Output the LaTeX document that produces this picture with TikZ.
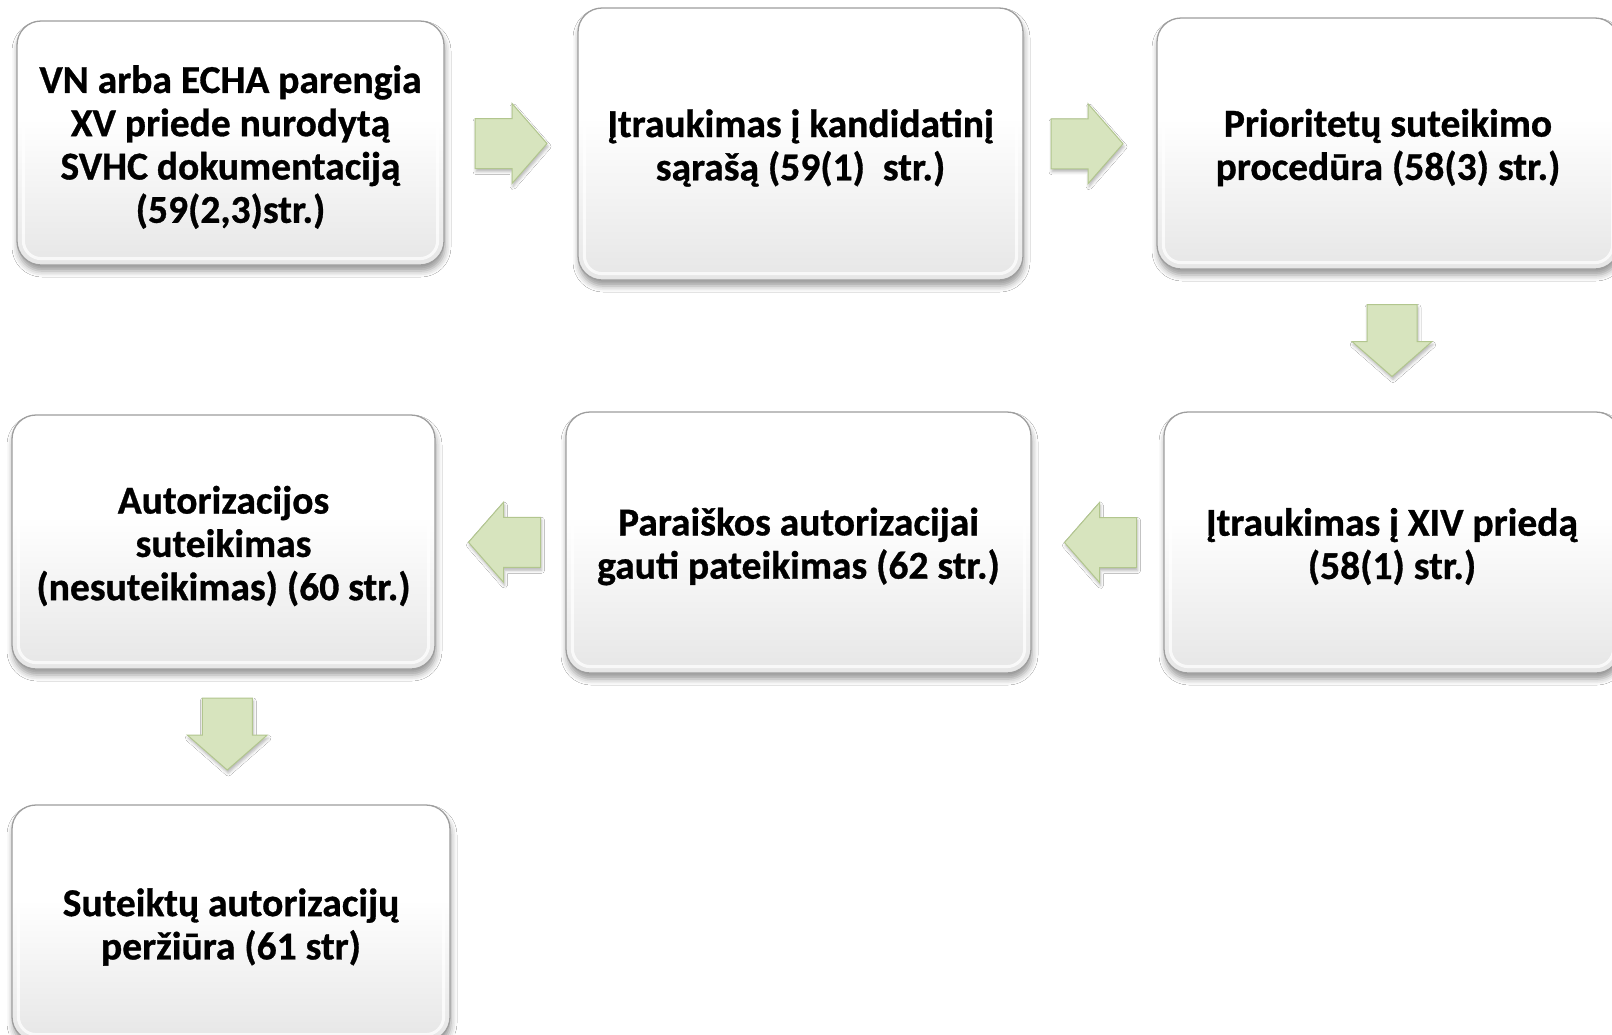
\documentclass[tikz,border=0pt]{standalone}
\usepackage{fontspec}
\setmainfont{Carlito}[BoldFeatures={FakeBold=0.8}]
\usetikzlibrary{calc,shadows.blur}
\definecolor{arrowfill}{RGB}{215,228,190}
\definecolor{arrowline}{RGB}{178,198,142}
\pgfdeclareverticalshading{boxshade}{100bp}{color(0bp)=(black!18); color(12bp)=(black!14); color(55bp)=(white); color(88bp)=(white); color(100bp)=(black!9)}
\tikzset{
  procbox/.style={rounded corners=24pt, draw=black!38, line width=1.3pt, shading=boxshade,
    inner sep=0pt,
    blur shadow={shadow xshift=1pt, shadow yshift=-6pt, shadow blur radius=6pt, shadow opacity=40}},
  proctext/.style={font=\fontsize{39.5}{43.3}\selectfont\bfseries, align=center, inner sep=0pt},
  bevel/.style={draw=white, line width=3pt, rounded corners=18pt, opacity=0.75},
  greenarrow/.style={fill=arrowfill, draw=arrowline, line width=1pt, line join=miter,
    blur shadow={shadow xshift=1pt, shadow yshift=-3pt, shadow blur radius=3pt, shadow opacity=30}},
  barrow/.pic={\path[greenarrow] (-36,-25) -- (1,-25) -- (1,-40) -- (36,0) -- (1,40) -- (1,25) -- (-36,25) -- cycle;}
}
\newcommand\procnode[6]{%
  \node[procbox, minimum width=#4pt, minimum height=#5pt] (#1) at (#2,#3) {};
  \path[bevel] ([shift={(7,7)}]#1.north west) rectangle ([shift={(-7,-7)}]#1.south east);
  \node[proctext] (#1t) at ([yshift=-4pt]#1.center) {#6};
}
\begin{document}
\begin{tikzpicture}[x=1pt,y=-1pt]
\useasboundingbox (0,0) rectangle (1612,1034);
\fill[white] (0,0) rectangle (1612,1034);
\clip (0,0) rectangle (1612,1034);
\procnode{b1}{230.5}{143}{427}{244}{VN arba ECHA parengia\\XV priede nurodytą\\SVHC dokumentaciją\\(59(2,3)str.)}
\procnode{b2}{800.5}{144}{445}{272}{Įtraukimas į kandidatinį\\sąrašą (59(1)\ \ str.)}
\procnode{b3}{1388}{143.5}{462}{251}{Prioritetų suteikimo\\procedūra (58(3) str.)}
\procnode{b6}{1392}{542.5}{456}{261}{Įtraukimas į XIV priedą\\(58(1) str.)}
\procnode{b5}{798.5}{542.5}{465}{261}{Paraiškos autorizacijai\\gauti pateikimas (62 str.)}
\procnode{b4}{223.5}{542}{423}{254}{Autorizacijos\\suteikimas\\(nesuteikimas) (60 str.)}
\procnode{b7}{231}{923}{438}{236}{Suteiktų autorizacijų\\peržiūra (61 str)}
\pic at ($(b1.east)!0.5!(b2.west)$) {barrow};
\pic at ($(b2.east)!0.5!(b3.west)+(-3,0)$) {barrow};
\pic[rotate=-90] at ($(b3.south)!0.5!(b6.north)+(2,0)$) {barrow};
\pic[rotate=180] at ($(b6.west)!0.5!(b5.east)+(3,0)$) {barrow};
\pic[rotate=180] at ($(b5.west)!0.5!(b4.east)+(4,0)$) {barrow};
\pic[rotate=-90] at ($(b4.south)!0.5!(b7.north)+(0,-3)$) {barrow};
\end{tikzpicture}
\end{document}
